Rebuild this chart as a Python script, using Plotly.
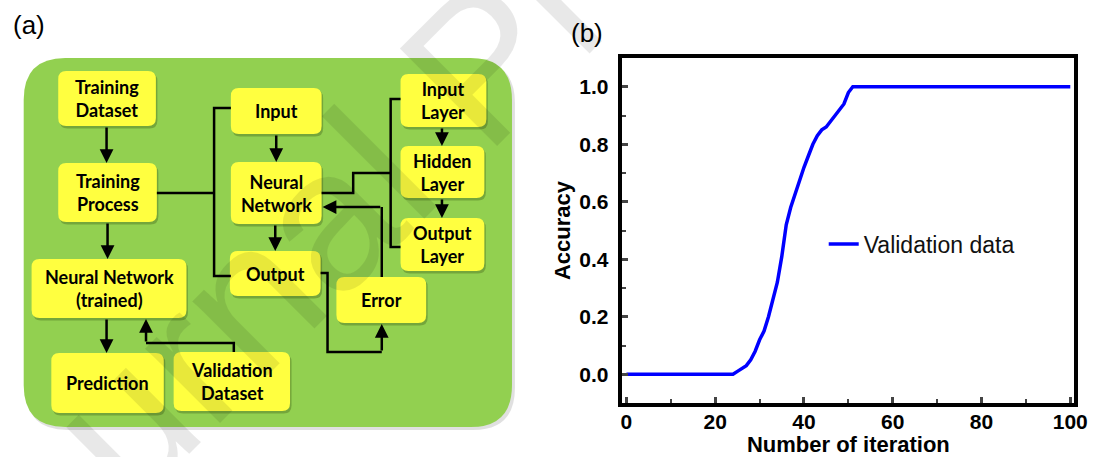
import plotly.graph_objects as go

# ---------------- data: panel (b) ----------------
iterations = [0, 24, 25, 26, 27, 28, 29, 30, 31, 32, 33, 34, 35, 36, 37, 38, 39,
              40, 41, 42, 43, 44, 45, 46, 47, 48, 49, 50, 51, 100]
accuracy = [0.0, 0.0, 0.01, 0.02, 0.03, 0.05, 0.08, 0.12, 0.15, 0.20, 0.26, 0.32,
            0.41, 0.52, 0.58, 0.63, 0.68, 0.72, 0.76, 0.80, 0.83, 0.85, 0.86,
            0.88, 0.90, 0.92, 0.94, 0.98, 1.0, 1.0]
series_name = "Validation data"
x_title = "Number of iteration"
y_title = "Accuracy"
x_ticks = [0, 20, 40, 60, 80, 100]
y_ticks = [0.0, 0.2, 0.4, 0.6, 0.8, 1.0]
y_tick_labels = ["0.0", "0.2", "0.4", "0.6", "0.8", "1.0"]
panel_labels = ["(a)", "(b)"]
watermark = "Journal Pre-proof"

# ---------------- data: panel (a) flowchart labels ----------------
box_labels = ["Training<br>Dataset", "Training<br>Process", "Neural Network<br>(trained)",
              "Prediction", "Validation<br>Dataset", "Input", "Neural<br>Network",
              "Output", "Error", "Input<br>Layer", "Hidden<br>Layer", "Output<br>Layer"]

# ---------------- layout of flowchart (diagram coordinates, px-like) ----------------
box_rects = [(57, 71, 156, 126), (57, 163, 157, 222), (30, 259, 187, 318),
             (50, 353, 164, 413), (174, 352, 292, 411), (232, 88, 324, 134),
             (232, 162, 324, 224), (231, 251, 323, 296), (339, 277, 430, 323),
             (404, 74, 491, 127), (404, 146, 489, 198), (404, 218, 489, 271)]
polylines = [
    [(157, 193), (215, 193)],
    [(232, 108), (215, 108), (215, 276), (232, 276)],
    [(324, 193), (356, 193), (356, 173), (394, 173)],
    [(404, 99), (394, 99), (394, 247), (404, 247)],
    [(235, 352), (235, 343), (146, 343)],
    [(323, 273), (330, 273), (330, 352), (385, 352)],
    [(385, 277), (385, 207)],
]
arrows = [  # (tail, tip)
    ((106, 126), (106, 163)), ((107, 222), (107, 259)), ((106, 318), (106, 353)),
    ((146, 343), (146, 319)), ((278, 134), (278, 162)), ((277, 224), (277, 251)),
    ((446, 127), (446, 146)), ((446, 198), (446, 218)), ((385, 352), (385, 324)),
    ((385, 207), (325, 207)),
]

GREEN = "#92D050"
YELLOW = "#FFFF40"


def rrect(x0, y0, x1, y1, r):
    return (f"M{x0 + r},{y0} L{x1 - r},{y0} Q{x1},{y0} {x1},{y0 + r} "
            f"L{x1},{y1 - r} Q{x1},{y1} {x1 - r},{y1} L{x0 + r},{y1} "
            f"Q{x0},{y1} {x0},{y1 - r} L{x0},{y0 + r} Q{x0},{y0} {x0 + r},{y0} Z")


fig = go.Figure()
fig.add_trace(go.Scatter(x=iterations, y=accuracy, mode="lines", name=series_name,
                         line=dict(color="#0000FF", width=3.5), xaxis="x", yaxis="y"))
fig.add_trace(go.Scatter(x=[], y=[], xaxis="x2", yaxis="y2", showlegend=False,
                         hoverinfo="skip"))

shapes = []
# green background panel + shadow
shapes.append(dict(type="path", xref="x2", yref="y2", path=rrect(24, 61, 520, 430, 42),
                   fillcolor="rgba(0,0,0,0.12)", line=dict(width=0), layer="below"))
shapes.append(dict(type="path", xref="x2", yref="y2", path=rrect(22, 58, 517, 427, 42),
                   fillcolor=GREEN, line=dict(width=0), layer="below"))
for (x0, y0, x1, y1) in box_rects:
    shapes.append(dict(type="path", xref="x2", yref="y2",
                       path=rrect(x0 + 1.5, y0 + 2, x1 + 1.5, y1 + 2.5, 8),
                       fillcolor="rgba(60,90,20,0.35)", line=dict(width=0), layer="below"))
    shapes.append(dict(type="path", xref="x2", yref="y2", path=rrect(x0, y0, x1, y1, 8),
                       fillcolor=YELLOW, line=dict(width=0), layer="below"))
for pts in polylines:
    p = "M" + " L".join(f"{x},{y}" for x, y in pts)
    shapes.append(dict(type="path", xref="x2", yref="y2", path=p,
                       line=dict(color="black", width=2.5), fillcolor="rgba(0,0,0,0)"))

annotations = []
for label, (x0, y0, x1, y1) in zip(box_labels, box_rects):
    annotations.append(dict(x=(x0 + x1) / 2, y=(y0 + y1) / 2, xref="x2", yref="y2",
                            xanchor="center", yanchor="middle",
                            text=label, showarrow=False,
                            font=dict(family="Lato", size=18, color="black", weight="bold")))
for (tail, tip) in arrows:
    annotations.append(dict(x=tip[0], y=tip[1], ax=tail[0], ay=tail[1], xref="x2", yref="y2",
                            axref="x2", ayref="y2", text="", showarrow=True, arrowhead=2,
                            arrowsize=1.1, arrowwidth=2.5, arrowcolor="black", standoff=0))
annotations.append(dict(x=27 / 1107, y=1 - 25 / 457, xref="paper", yref="paper",
                        xanchor="center", yanchor="middle",
                        text=panel_labels[0], showarrow=False,
                        font=dict(family="Liberation Sans, Arial", size=26, color="black")))
annotations.append(dict(x=593 / 1107, y=1 - 33 / 457, xref="paper", yref="paper",
                        xanchor="center", yanchor="middle",
                        text=panel_labels[1], showarrow=False,
                        font=dict(family="Liberation Sans, Arial", size=26, color="black")))
# faint diagonal watermark (runs off the image, as in the source page)
annotations.append(dict(x=485 / 1107, y=1 - 65 / 457, xref="paper", yref="paper",
                        xanchor="center", yanchor="middle", textangle=-45,
                        text=watermark, showarrow=False,
                        font=dict(family="Liberation Sans, Arial", size=200,
                                  color="rgba(0,0,0,0.09)")))

axis_font = dict(family="Liberation Sans, Arial", size=21, color="black", weight="bold")
title_font = dict(family="Liberation Sans, Arial", size=22, color="black", weight="bold")

fig.update_layout(
    width=1107, height=457, margin=dict(l=0, r=0, t=0, b=0),
    paper_bgcolor="white", plot_bgcolor="white",
    showlegend=True,
    legend=dict(x=833 / 1107, y=1 - 244 / 457, xanchor="left", yanchor="middle",
                bgcolor="rgba(0,0,0,0)", borderwidth=0,
                font=dict(family="Liberation Sans, Arial", size=23, color="#111111")),
    xaxis=dict(domain=[629 / 1107, 1087 / 1107], range=[-0.9, 100.9], anchor="y",
               tickmode="array", tickvals=x_ticks, ticks="inside", ticklen=6, tickwidth=2.5,
               minor=dict(dtick=10, ticks="inside", ticklen=4, tickwidth=2),
               showline=True, mirror=True, linewidth=3.5, linecolor="black",
               showgrid=False, zeroline=False, tickfont=axis_font, ticklabelstandoff=-3,
               title=dict(text=x_title, font=title_font, standoff=0)),
    yaxis=dict(domain=[54 / 457, 399 / 457], range=[-0.1, 1.1], anchor="x",
               tickmode="array", tickvals=y_ticks, ticktext=y_tick_labels,
               ticks="inside", ticklen=6, tickwidth=2.5,
               minor=dict(dtick=0.1, ticks="inside", ticklen=4, tickwidth=2),
               showline=True, mirror=True, linewidth=3.5, linecolor="black",
               showgrid=False, zeroline=False, tickfont=axis_font, ticklabelstandoff=6,
               title=dict(text=y_title, font=title_font, standoff=4)),
    xaxis2=dict(domain=[0, 560 / 1107], range=[0, 560], anchor="y2", visible=False,
                fixedrange=True),
    yaxis2=dict(domain=[0, 1], range=[457, 0], anchor="x2", visible=False, fixedrange=True),
    shapes=shapes, annotations=annotations,
)

fig.write_html("out.html")
